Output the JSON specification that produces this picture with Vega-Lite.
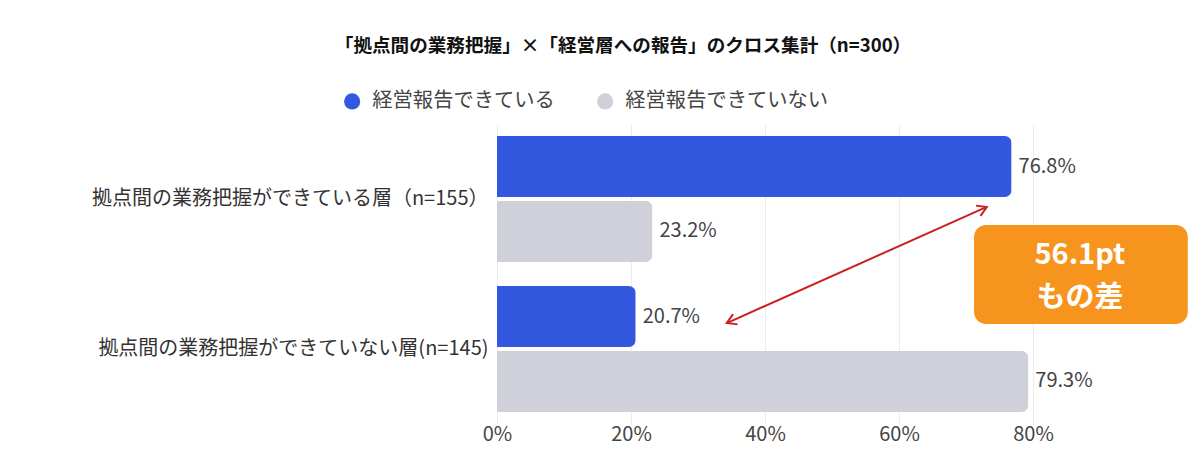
{
  "$schema": "https://vega.github.io/schema/vega-lite/v6.json",
  "description": "拠点間の業務把握 × 経営層への報告 のクロス集計",
  "autosize": {"type": "none"},
  "padding": {"left": 497, "top": 124, "right": 167, "bottom": 34},
  "width": 536,
  "height": 300,
  "title": {
    "text": "「拠点間の業務把握」×「経営層への報告」のクロス集計（n=300）",
    "fontSize": 18.6,
    "fontWeight": "bold",
    "color": "#111111",
    "anchor": "middle",
    "dx": -142,
    "offset": 35
  },
  "config": {
    "font": "Noto Sans CJK JP",
    "view": {"stroke": null},
    "axisX": {
      "grid": true,
      "gridColor": "#ececf3",
      "domain": false,
      "ticks": false,
      "labelFlush": false,
      "labelFontSize": 20,
      "labelColor": "#444444",
      "labelPadding": 0
    }
  },
  "datasets": {
    "bars": [
      {"group": "拠点間の業務把握ができている層（n=155）", "report": "経営報告できている", "value": 76.8},
      {"group": "拠点間の業務把握ができている層（n=155）", "report": "経営報告できていない", "value": 23.2},
      {"group": "拠点間の業務把握ができていない層(n=145)", "report": "経営報告できている", "value": 20.7},
      {"group": "拠点間の業務把握ができていない層(n=145)", "report": "経営報告できていない", "value": 79.3}
    ],
    "badge": [{"x": 71.2, "x2": 103.1, "y": 0.673, "y2": 1.333}],
    "badgeText": [
      {"x": 87, "y": 0.873, "t": "56.1pt"},
      {"x": 87, "y": 1.16, "t": "もの差"}
    ],
    "arrow": [{"x": 34.3, "y": 1.327, "x2": 73.1, "y2": 0.553}],
    "headTop": [{"x": 73.1, "y": 0.553}],
    "headBottom": [{"x": 34.3, "y": 1.327}]
  },
  "layer": [
    {
      "data": {"name": "bars"},
      "transform": [
        {"calculate": "format(datum.value, '.1f') + '%'", "as": "label"}
      ],
      "encoding": {
        "y": {
          "field": "group",
          "type": "nominal",
          "sort": null,
          "scale": {"paddingInner": 0.16, "paddingOuter": 0.08},
          "axis": {"title": null, "domain": false, "ticks": false, "labelFontSize": 20, "labelColor": "#333333", "labelPadding": 9, "labelLimit": 600}
        },
        "yOffset": {
          "field": "report",
          "type": "nominal",
          "sort": ["経営報告できている", "経営報告できていない"],
          "scale": {"paddingInner": 0.06, "paddingOuter": 0}
        },
        "x": {
          "field": "value",
          "type": "quantitative",
          "scale": {"domain": [0, 80]},
          "axis": {"title": null, "values": [0, 20, 40, 60, 80], "labelExpr": "datum.value + '%'"}
        }
      },
      "layer": [
        {
          "mark": {"type": "bar", "cornerRadiusEnd": 7},
          "encoding": {
            "color": {
              "field": "report",
              "type": "nominal",
              "scale": {"domain": ["経営報告できている", "経営報告できていない"], "range": ["#3358e0", "#d0d0da"]},
              "legend": {
                "title": null,
                "orient": "none",
                "legendX": -155,
                "legendY": -33,
                "direction": "horizontal",
                "symbolType": "circle",
                "symbolSize": 260,
                "symbolStrokeWidth": 0,
                "labelFontSize": 20.3,
                "labelColor": "#444444",
                "labelLimit": 400,
                "labelOffset": 10,
                "columnPadding": 40
              }
            }
          }
        },
        {
          "mark": {"type": "text", "align": "left", "baseline": "middle", "dx": 7, "fontSize": 20, "color": "#444444"},
          "encoding": {"text": {"field": "label"}}
        }
      ]
    },
    {
      "layer": [
        {
          "data": {"name": "badge"},
          "mark": {"type": "rect", "cornerRadius": 12, "color": "#f7941d"},
          "encoding": {
            "x": {"field": "x", "type": "quantitative", "scale": {"domain": [0, 80]}},
            "x2": {"field": "x2"},
            "y": {"field": "y", "type": "quantitative", "scale": {"domain": [0, 2], "reverse": true}, "axis": null},
            "y2": {"field": "y2"}
          }
        },
        {
          "data": {"name": "badgeText"},
          "mark": {"type": "text", "fontSize": 29, "fontWeight": "bold", "color": "white", "align": "center", "baseline": "middle"},
          "encoding": {
            "x": {"field": "x", "type": "quantitative", "scale": {"domain": [0, 80]}},
            "y": {"field": "y", "type": "quantitative", "scale": {"domain": [0, 2], "reverse": true}, "axis": null},
            "text": {"field": "t"}
          }
        },
        {
          "data": {"name": "arrow"},
          "mark": {"type": "rule", "color": "#cc1f1f", "strokeWidth": 2},
          "encoding": {
            "x": {"field": "x", "type": "quantitative", "scale": {"domain": [0, 80]}},
            "x2": {"field": "x2"},
            "y": {"field": "y", "type": "quantitative", "scale": {"domain": [0, 2], "reverse": true}, "axis": null},
            "y2": {"field": "y2"}
          }
        },
        {
          "data": {"name": "headTop"},
          "mark": {"type": "point", "shape": "M-0.6,1L0,0L0.6,1", "filled": false, "stroke": "#cc1f1f", "strokeWidth": 2, "size": 350, "angle": 66, "opacity": 1},
          "encoding": {
            "x": {"field": "x", "type": "quantitative", "scale": {"domain": [0, 80]}},
            "y": {"field": "y", "type": "quantitative", "scale": {"domain": [0, 2], "reverse": true}, "axis": null}
          }
        },
        {
          "data": {"name": "headBottom"},
          "mark": {"type": "point", "shape": "M-0.6,1L0,0L0.6,1", "filled": false, "stroke": "#cc1f1f", "strokeWidth": 2, "size": 350, "angle": 246, "opacity": 1},
          "encoding": {
            "x": {"field": "x", "type": "quantitative", "scale": {"domain": [0, 80]}},
            "y": {"field": "y", "type": "quantitative", "scale": {"domain": [0, 2], "reverse": true}, "axis": null}
          }
        }
      ]
    }
  ],
  "resolve": {"scale": {"y": "independent"}}
}
